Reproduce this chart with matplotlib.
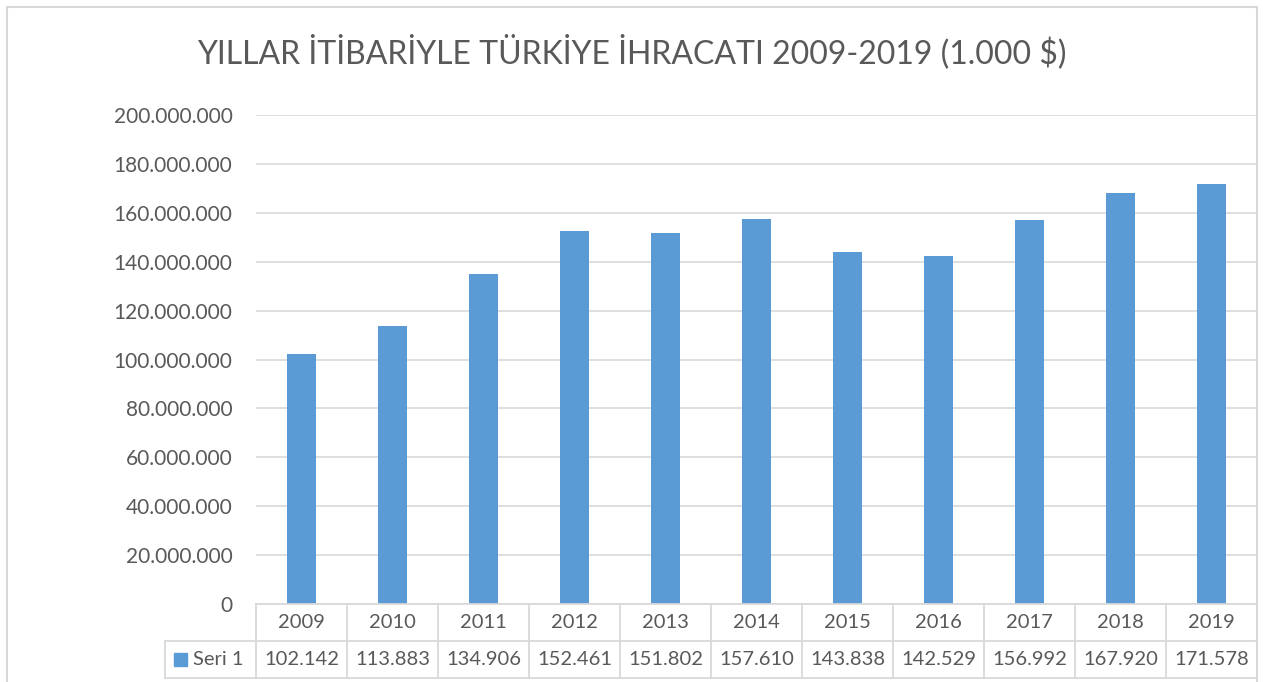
import matplotlib.pyplot as plt
from matplotlib.ticker import FuncFormatter
from matplotlib.lines import Line2D
from matplotlib.patches import Rectangle
import numpy as np

plt.rcParams['font.family'] = ['Lato', 'DejaVu Sans']

years = ['2009', '2010', '2011', '2012', '2013', '2014', '2015', '2016', '2017', '2018', '2019']
# export values in thousand $ (table shows millions of thousands)
values = [102.142, 113.883, 134.906, 152.461, 151.802, 157.610, 143.838, 142.529, 156.992, 167.920, 171.578]
series_name = 'Seri 1'
title = 'YILLAR İTİBARİYLE TÜRKİYE İHRACATI 2009-2019 (1.000 $)'

TXT = '#595959'
GRID = '#d9d9d9'
BAR = '#5b9bd5'

W, H = 1263, 682
fig = plt.figure(figsize=(W / 100, H / 100), dpi=100)


def fx(px):
    return px / W


def fy(py):
    return 1 - py / H


ax_l, ax_r, ax_t, ax_b = 256, 1257, 115, 604
ax = fig.add_axes([fx(ax_l), fy(ax_b), fx(ax_r - ax_l), (ax_b - ax_t) / H])

x = np.arange(len(years))
heights = [v * 1e6 for v in values]
ax.bar(x, heights, width=0.32, color=BAR, zorder=3)

ax.set_xlim(-0.5, len(years) - 0.5)
ax.set_ylim(0, 200e6)
ax.set_yticks(np.arange(0, 200e6 + 1, 20e6))
ax.yaxis.set_major_formatter(FuncFormatter(lambda v, p: f'{int(v):,}'.replace(',', '.')))
ax.tick_params(axis='y', length=0, pad=17, labelsize=15, labelcolor=TXT)
ax.set_xticks([])
ax.grid(axis='y', color=GRID, linewidth=1.2, zorder=0)
for s in ax.spines.values():
    s.set_visible(False)

# chart border
fig.patches.append(Rectangle((fx(7), fy(690)), fx(1257 - 7), (690 - 7) / H,
                             transform=fig.transFigure, fill=False,
                             edgecolor=GRID, linewidth=1.5))

fig.text(0.5, fy(52), title, ha='center', va='center', fontsize=23, color=TXT)

# data table below the axis
row1_t, row1_b, row2_b = 604, 641, 678
leg_l = 165
col_w = (ax_r - ax_l) / len(years)


def hline(y0, xa, xb):
    fig.add_artist(Line2D([fx(xa), fx(xb)], [fy(y0), fy(y0)], color=GRID, linewidth=1.3))


def vline(x0, ya, yb):
    fig.add_artist(Line2D([fx(x0), fx(x0)], [fy(ya), fy(yb)], color=GRID, linewidth=1.3))


hline(row1_t, ax_l, ax_r)
hline(row1_b, leg_l, ax_r)
hline(row2_b, leg_l, ax_r)
vline(leg_l, row1_b, row2_b)
for i in range(len(years) + 1):
    vline(ax_l + i * col_w, row1_t, row2_b)

for i, (yr, v) in enumerate(zip(years, values)):
    cx = ax_l + (i + 0.5) * col_w
    fig.text(fx(cx), fy((row1_t + row1_b) / 2), yr, ha='center', va='center',
             fontsize=14.5, color=TXT)
    fig.text(fx(cx), fy((row1_b + row2_b) / 2), f'{v:.3f}', ha='center', va='center',
             fontsize=14.5, color=TXT)

fig.patches.append(Rectangle((fx(174), fy(666)), fx(13), 13 / H,
                             transform=fig.transFigure, color=BAR))
fig.text(fx(193), fy((row1_b + row2_b) / 2), series_name, ha='left', va='center',
         fontsize=14.5, color=TXT)

fig.savefig('out.png', dpi=100)
